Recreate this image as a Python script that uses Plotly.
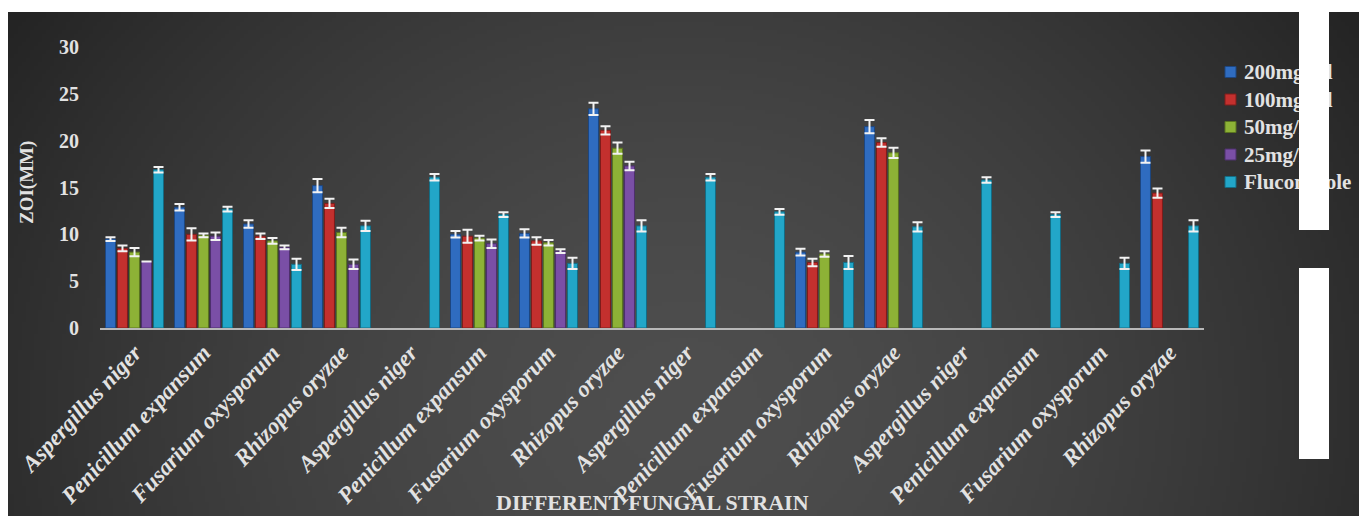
import struct
import zlib
import base64
import numpy as np
import plotly.graph_objects as go

# ---- data -------------------------------------------------------------
strains = [
    "Aspergillus niger", "Penicillum expansum", "Fusarium oxysporum", "Rhizopus oryzae",
    "Aspergillus niger", "Penicillum expansum", "Fusarium oxysporum", "Rhizopus oryzae",
    "Aspergillus niger", "Penicillum expansum", "Fusarium oxysporum", "Rhizopus oryzae",
    "Aspergillus niger", "Penicillum expansum", "Fusarium oxysporum", "Rhizopus oryzae",
]
series_names = ["200mg/ml", "100mg/ml", "50mg/ml", "25mg/ml", "Fluconazole"]

zoi_200 = [9.5, 12.9, 11.1, 15.2, None, 10.0, 10.1, 23.4, None, None, 8.1, 21.5, None, None, None, 18.3]
zoi_100 = [8.5, 10.0, 9.8, 13.3, None, 9.8, 9.3, 21.1, None, None, 7.0, 19.8, None, None, None, 14.4]
zoi_50 = [8.1, 9.9, 9.3, 10.2, None, 9.6, 9.1, 19.2, None, None, 7.9, 18.7, None, None, None, None]
zoi_25 = [7.1, 9.8, 8.6, 6.8, None, 9.0, 8.2, 17.3, None, None, None, None, None, None, None, None]
zoi_fluconazole = [16.9, 12.7, 6.8, 10.9, 16.1, 12.1, 6.9, 10.9, 16.1, 12.4, 7.0, 10.8, 15.8, 12.1, 6.9, 10.9]

err_200 = [0.2, 0.35, 0.4, 0.7, None, 0.35, 0.45, 0.65, None, None, 0.35, 0.7, None, None, None, 0.65]
err_100 = [0.3, 0.65, 0.3, 0.5, None, 0.7, 0.4, 0.45, None, None, 0.4, 0.45, None, None, None, 0.5]
err_50 = [0.45, 0.2, 0.3, 0.5, None, 0.25, 0.3, 0.6, None, None, 0.3, 0.55, None, None, None, None]
err_25 = [0.0, 0.4, 0.2, 0.5, None, 0.45, 0.2, 0.45, None, None, None, None, None, None, None, None]
err_fluconazole = [0.3, 0.25, 0.6, 0.55, 0.35, 0.25, 0.6, 0.6, 0.35, 0.3, 0.7, 0.5, 0.3, 0.25, 0.6, 0.6]

y_ticks = [0, 5, 10, 15, 20, 25, 30]

series_values = [zoi_200, zoi_100, zoi_50, zoi_25, zoi_fluconazole]
series_errors = [err_200, err_100, err_50, err_25, err_fluconazole]
series_colors = ["#2f6cc0", "#c3302e", "#8db236", "#7a4fa6", "#22a6c8"]
edge_colors = ["#1d4680", "#7e1c1b", "#5a7420", "#4d306c", "#146c84"]

# ---- geometry of the figure (pixels) ---------------------------------
W, H = 1359, 516
PL, PR, PT, PB = 100, 1204, 47, 328          # plot area edges
pw, ph = PR - PL, PB - PT


def px_x(x):
    return (x - PL) / pw


def px_y(y):
    return (PB - y) / ph


# ---- dark gradient backdrop as an inline PNG --------------------------
def png_data_uri(arr):
    h, w, _ = arr.shape
    raw = b"".join(b"\x00" + arr[i].tobytes() for i in range(h))

    def chunk(tag, data):
        body = tag + data
        return struct.pack(">I", len(data)) + body + struct.pack(">I", zlib.crc32(body) & 0xFFFFFFFF)

    png = (b"\x89PNG\r\n\x1a\n"
           + chunk(b"IHDR", struct.pack(">IIBBBBB", w, h, 8, 2, 0, 0, 0))
           + chunk(b"IDAT", zlib.compress(raw, 9))
           + chunk(b"IEND", b""))
    return "data:image/png;base64," + base64.b64encode(png).decode()


bw, bh = 340, 126
gx, gy = np.meshgrid(np.linspace(0, 1, bw), np.linspace(0, 1, bh))
dist = np.sqrt(((gx - 0.5) / 0.6) ** 2 + ((gy - 0.78) / 1.4) ** 2)
shade = np.clip(dist, 0, 1) ** 1.6
inner, outer = 78.0, 36.0
val = inner + (outer - inner) * shade
backdrop = np.repeat(val[:, :, None], 3, axis=2).astype(np.uint8)

fig = go.Figure()

x_pos = list(range(len(strains)))
for name, vals, errs, col, edge in zip(series_names, series_values, series_errors,
                                       series_colors, edge_colors):
    fig.add_trace(go.Bar(
        name=name,
        x=x_pos,
        y=vals,
        marker=dict(color=col, line=dict(color=edge, width=1)),
        error_y=dict(type="data", array=errs, visible=True,
                     color="#f2f2f2", thickness=2, width=5),
        showlegend=False,
    ))

serif = "Liberation Serif"
label_col = "#e2e2e2"

# legend drawn as coloured squares + labels at the right of the plot
legend_shapes = []
legend_notes = []
for i, (name, col, edge) in enumerate(zip(series_names, series_colors, edge_colors)):
    yc = 72 + i * 27.5
    legend_shapes.append(dict(
        type="rect", xref="paper", yref="paper",
        x0=px_x(1225), x1=px_x(1236), y0=px_y(yc + 5.5), y1=px_y(yc - 5.5),
        fillcolor=col, line=dict(color=edge, width=1), layer="above",
    ))
    legend_notes.append(dict(
        text=name, xref="paper", yref="paper", x=px_x(1242), y=px_y(yc),
        xanchor="left", yanchor="middle", showarrow=False,
        font=dict(family=serif, size=21, color=label_col, weight="bold"),
    ))

strip_notes = [
    dict(text="&#160;", xref="paper", yref="paper", x=px_x(1299), y=px_y(y0),
         xanchor="left", yanchor="top", showarrow=False, width=30, height=hh,
         bgcolor="white", borderpad=0, borderwidth=0)
    for y0, hh in [(12, 218), (268, 191)]
]

fig.update_layout(
    width=W, height=H,
    margin=dict(l=PL, r=W - PR, t=PT, b=H - PB, autoexpand=False),
    paper_bgcolor="white",
    plot_bgcolor="rgba(0,0,0,0)",
    barmode="group",
    bargap=0.13,
    bargroupgap=0.17,
    showlegend=False,
    xaxis=dict(
        range=[-0.5, len(strains) - 0.5],
        tickvals=x_pos, ticktext=strains, tickangle=-47,
        tickfont=dict(family=serif, size=23, color=label_col, weight="bold", style="italic"),
        showline=True, linecolor="#b8b8b8", linewidth=2,
        showgrid=False, zeroline=False, ticks="",
    ),
    yaxis=dict(
        range=[0, 30], tickvals=y_ticks,
        tickfont=dict(family=serif, size=20, color=label_col, weight="bold"),
        ticklabelstandoff=20,
        showgrid=False, zeroline=False, showline=False, ticks="",
    ),
    images=[dict(
        source=png_data_uri(backdrop), xref="paper", yref="paper",
        x=px_x(8), y=px_y(12), sizex=(W - 8) / pw, sizey=(H - 12) / ph,
        xanchor="left", yanchor="top", sizing="stretch", layer="below",
    )],
    shapes=legend_shapes,
    annotations=[
        dict(text="ZOI(MM)", xref="paper", yref="paper", x=px_x(27), y=px_y(183),
             xanchor="center", yanchor="middle", textangle=-90, showarrow=False,
             font=dict(family=serif, size=19, color=label_col, weight="bold")),
        dict(text="DIFFERENT FUNGAL STRAIN", xref="paper", yref="paper",
             x=0.5, y=px_y(502), xanchor="center", yanchor="middle", showarrow=False,
             font=dict(family=serif, size=22, color=label_col, weight="bold")),
    ] + legend_notes + strip_notes,
)

fig.write_html("out.html")
